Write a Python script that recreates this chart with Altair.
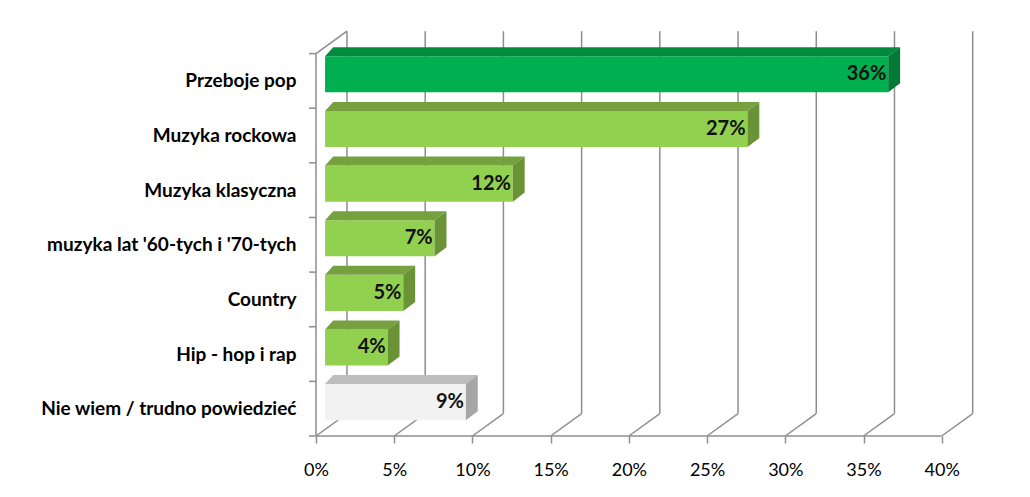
import json
import altair as alt
import pandas as pd

# ---- data ----
categories = ["Przeboje pop", "Muzyka rockowa", "Muzyka klasyczna",
              "muzyka lat '60-tych i '70-tych", "Country", "Hip - hop i rap",
              "Nie wiem / trudno powiedzieć"]
values = [36, 27, 12, 7, 5, 4, 9]
value_labels = ["36%", "27%", "12%", "7%", "5%", "4%", "9%"]
groups = ["top", "main", "main", "main", "main", "main", "none"]
x_ticks = [0, 5, 10, 15, 20, 25, 30, 35, 40]

# ---- style ----
palette = {
    "top": {"front": "#00B050", "top": "#008A3E", "side": "#007A36"},
    "main": {"front": "#92D050", "top": "#77A03E", "side": "#6A9236"},
    "none": {"front": "#F2F2F2", "top": "#BDBDBD", "side": "#A6A6A6"},
}
GRID = "#8E8E8E"
FONT = "Lato"
BACKX, BACKY = 1.98, 0.41      # depth of the wall (x in %, y in rows)
BX = 0.58                       # bar front face offset from wall
FY0, FY1 = 0.29, 0.95           # bar front face within row
TDY = 0.165                     # top face depth (rows)
TDXL, TDXR = 0.52, 0.76         # top face skew left/right (%)
NROWS = len(categories)
XMAX = 42
PXX = 15.643
PXY = 54.6

rows = list(range(NROWS - 1, -1, -1))  # first category on top

front, topf, side, labs = [], [], [], []
for c, v, lab, g, r in zip(categories, values, value_labels, groups, rows):
    col = palette[g]
    x0, x1 = BX, BX + v
    yb, yt = r + FY0, r + FY1
    front.append({"cat": c, "x": x0, "x2": x1, "y": yb, "y2": yt, "fill": col["front"]})
    for xx, ya, yb2 in [(x0, yt, yt), (x0 + TDXL, yt, yt + TDY),
                        (x1, yt, yt + TDY), (x1 + TDXR, yt + TDY, yt + TDY)]:
        topf.append({"cat": c, "x": xx, "y": ya, "y2": yb2, "fill": col["top"]})
    for xx, ya, yb2 in [(x1, yb, yt), (x1 + TDXR, yb + TDY, yt + TDY)]:
        side.append({"cat": c, "x": xx, "y": ya, "y2": yb2, "fill": col["side"]})
    labs.append({"cat": c, "x": x1 - 0.12, "y": (yb + yt) / 2, "t": lab})

front = pd.DataFrame(front)
topf = pd.DataFrame(topf)
side = pd.DataFrame(side)
labs = pd.DataFrame(labs)

lines = []
for t in x_ticks:
    lines.append({"x": t + BACKX, "x2": t + BACKX, "y": BACKY, "y2": NROWS + BACKY})
    lines.append({"x": t, "x2": t + BACKX, "y": 0, "y2": BACKY})
lines.append({"x": 0, "x2": 0, "y": 0, "y2": NROWS})
lines.append({"x": 0, "x2": BACKX, "y": NROWS, "y2": NROWS + BACKY})
lines.append({"x": 0, "x2": x_ticks[-1], "y": 0, "y2": 0})
for r in range(NROWS + 1):
    lines.append({"x": -0.45, "x2": 0, "y": r, "y2": r})
lines = pd.DataFrame(lines)

xs = alt.Scale(domain=[0, XMAX], nice=False, zero=False)
ys = alt.Scale(domain=[0, NROWS + 0.45], nice=False, zero=False)

rev_cats = [categories[NROWS - 1 - i] for i in range(NROWS)]
label_expr = json.dumps(rev_cats, ensure_ascii=False) + "[floor(datum.value)]"

base_axes = alt.Chart(lines).mark_rule(color=GRID, strokeWidth=1.5).encode(
    x=alt.X("x:Q", scale=xs, title=None,
            axis=alt.Axis(values=x_ticks, format=".0f", labelExpr="datum.value + '%'",
                          domain=False, grid=False, tickSize=7, tickColor=GRID,
                          tickWidth=1.5, labelFont=FONT, labelFontSize=18,
                          labelColor="#000000", labelPadding=18, labelFlush=False)),
    x2="x2:Q",
    y=alt.Y("y:Q", scale=ys, title=None,
            axis=alt.Axis(values=[i + 0.5 for i in range(NROWS)], labelExpr=label_expr,
                          domain=False, grid=False, ticks=False, labelFont=FONT,
                          labelFontSize=19, labelFontWeight="bold", labelColor="#000000",
                          labelPadding=20, labelLimit=400)),
    y2="y2:Q",
)

front_m = alt.Chart(front).mark_bar().encode(
    x=alt.X("x:Q", scale=xs), x2="x2:Q",
    y=alt.Y("y:Q", scale=ys), y2="y2:Q",
    color=alt.Color("fill:N", scale=None),
)

top_m = alt.Chart(topf).mark_area().encode(
    x=alt.X("x:Q", scale=xs),
    y=alt.Y("y:Q", scale=ys, stack=None), y2="y2:Q",
    color=alt.Color("fill:N", scale=None),
    detail="cat:N",
)

side_m = alt.Chart(side).mark_area().encode(
    x=alt.X("x:Q", scale=xs),
    y=alt.Y("y:Q", scale=ys, stack=None), y2="y2:Q",
    color=alt.Color("fill:N", scale=None),
    detail="cat:N",
)

text_m = alt.Chart(labs).mark_text(align="right", baseline="middle", font=FONT,
                                    fontSize=20, fontWeight="bold", color="#111111").encode(
    x=alt.X("x:Q", scale=xs), y=alt.Y("y:Q", scale=ys), text="t:N",
)

chart = alt.layer(base_axes, front_m, top_m, side_m, text_m).properties(
    width=round(XMAX * PXX), height=round((NROWS + 0.45) * PXY),
    padding={"left": 308, "top": 21, "right": 40, "bottom": 45},
    autosize=alt.AutoSizeParams(type="none"),
    background="white",
).configure_view(stroke=None)

chart.save("out.html", embed_options={"renderer": "svg", "actions": False})
